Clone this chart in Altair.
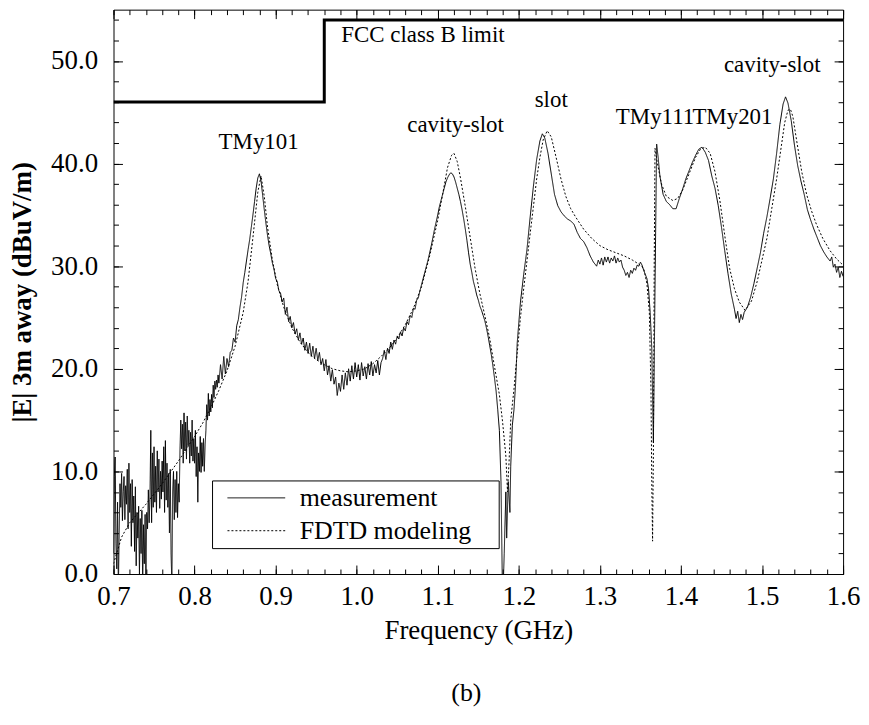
import altair as alt
import numpy as np
import pandas as pd

# ---------------- data ----------------
# measurement, noisy low-frequency part on a 1 MHz grid 0.700 .. 0.830 GHz
meas_a_span = (0.700, 0.830)
meas_a = [2.0, 9.5, 11.4, 3.0, 0.5, 7.0, -1.5, 4.0, 8.8, 6.5, 9.8, 5.2, 8.0, 9.5, 5.3, 8.6,
          6.8, 10.2, 4.4, 10.8, 6.0, 8.8, 2.7, 9.2, 5.0, 7.6, 2.2, 8.5, 0.8, 6.0, 3.5, 6.6,
          0.0, 5.4, 2.0, 6.2, -1.0, 4.8, 1.0, 5.8, -1.0, 6.0, 4.4, 8.2, 5.0, 7.5, 14.0, 5.0,
          11.8, 6.5, 12.4, 7.0, 10.5, 6.0, 12.0, 8.0, 11.2, 6.4, 10.0, 7.3, 11.0, 8.0, 12.4,
          6.0, 13.0, 7.2, 10.8, 6.5, 9.8, 4.0, 10.2, 2.0, -1.0, 8.0, 10.0, 5.3, 9.2, 6.0, 10.0,
          5.5, 8.8, 7.0, 12.0, 15.0, 12.2, 14.6, 10.8, 15.7, 12.0, 14.8, 11.2, 15.4, 12.5,
          14.0, 10.8, 13.8, 11.5, 15.0, 11.0, 13.2, 10.8, 14.0, 9.5, 12.4, 7.0, 11.8, 10.0,
          13.4, 9.9, 12.8, 10.5, 13.2, 10.0, 12.6, 14.0, 16.5, 15.0, 17.6, 15.4, 17.0, 15.8,
          17.5, 16.2, 18.4, 17.2, 18.8, 18.0, 18.9, 18.2, 19.4, 18.6]
# measurement 0.832 .. 0.878 GHz (2 MHz grid)
meas_b_span = (0.832, 0.878)
meas_b = [20.4, 19.0, 21.2, 19.5, 21.0, 20.2, 21.6, 21.8, 23.0, 22.6, 24.2, 24.8, 26.0, 27.0,
          28.4, 29.4, 30.5, 31.6, 32.6, 33.8, 35.0, 36.3, 37.6, 38.6]
# measurement 0.880 .. 1.050 GHz (2 MHz grid)
meas_c_span = (0.880, 1.050)
meas_c = [39.0, 38.3, 36.9, 35.5, 34.2, 33.0, 32.0, 31.2, 30.3, 29.7, 28.8, 28.5, 27.6, 27.4,
          26.5, 26.9, 25.3, 26.0, 24.6, 25.1, 24.0, 24.5, 23.4, 23.9, 22.8, 23.5, 22.4, 23.0,
          21.8, 22.6, 21.5, 22.5, 21.2, 22.2, 21.0, 22.0, 20.8, 21.6, 20.4, 21.0, 19.8, 20.9,
          19.4, 20.3, 18.8, 19.9, 18.5, 19.2, 17.4, 18.6, 17.8, 19.4, 18.0, 19.6, 18.4, 20.0,
          18.8, 20.3, 19.0, 20.6, 19.2, 20.4, 18.9, 20.6, 19.3, 20.2, 19.0, 20.5, 19.4, 20.7,
          19.3, 20.4, 19.6, 20.8, 19.4, 20.6, 21.0, 21.8, 20.9, 22.0, 21.5, 22.6, 21.9, 22.8,
          22.4, 23.2]
# measurement 1.052 .. 1.174 GHz (2 MHz grid)
meas_d_span = (1.052, 1.174)
meas_d = [22.9, 23.6, 23.2, 24.0, 23.7, 24.6, 24.3, 25.2, 25.0, 25.9, 25.8, 26.7, 26.9, 27.6,
          28.2, 28.8, 29.4, 30.0, 30.6, 31.3, 32.0, 32.8, 33.6, 34.3, 35.0, 35.8, 36.4, 37.0,
          37.6, 38.2, 38.6, 38.9, 39.1, 39.0, 38.7, 38.2, 37.6, 37.0, 36.3, 35.5, 34.6, 33.6,
          32.5, 31.3, 30.2, 29.4, 28.5, 27.9, 27.2, 26.7, 26.1, 25.7, 25.2, 24.7, 24.0, 23.2,
          22.3, 21.4, 20.3, 19.1, 17.8, 16.0]
# measurement 1.176 .. 1.600 GHz (frequency, level)
meas_e = [(1.176, 14.0), (1.178, 9.0), (1.180, -3.0), (1.182, 2.0), (1.184, 8.0), (1.185, 3.5),
          (1.187, 9.0), (1.189, 6.0), (1.190, 10.5), (1.192, 14.5), (1.194, 16.0), (1.196, 18.5),
          (1.198, 22.5), (1.200, 24.5), (1.202, 26.5), (1.206, 29.2), (1.210, 31.6), (1.214, 34.8),
          (1.218, 37.8), (1.222, 40.4), (1.226, 42.2), (1.229, 42.9), (1.232, 42.5), (1.236, 41.0),
          (1.240, 39.0), (1.244, 37.0), (1.248, 35.9), (1.252, 35.3), (1.256, 34.9), (1.260, 34.6),
          (1.264, 34.4), (1.268, 34.1), (1.272, 33.3), (1.276, 32.7), (1.280, 32.4), (1.284, 31.8),
          (1.288, 31.0), (1.292, 30.4), (1.296, 30.0), (1.298, 30.6), (1.300, 30.2), (1.302, 30.8),
          (1.304, 30.1), (1.306, 30.9), (1.308, 30.4), (1.310, 30.9), (1.312, 30.3), (1.314, 30.8),
          (1.316, 30.5), (1.318, 31.0), (1.320, 30.3), (1.322, 30.8), (1.324, 30.4), (1.326, 30.6),
          (1.328, 29.9), (1.330, 29.6), (1.332, 29.1), (1.334, 29.4), (1.336, 28.9), (1.338, 29.6),
          (1.340, 29.3), (1.342, 29.8), (1.344, 29.6), (1.346, 30.1), (1.348, 30.0), (1.350, 30.4),
          (1.352, 30.1), (1.354, 29.6), (1.356, 29.2), (1.358, 28.8), (1.360, 27.8), (1.362, 25.5),
          (1.364, 22.0), (1.366, 12.8), (1.368, 28.0), (1.370, 41.9), (1.372, 40.5), (1.374, 38.8),
          (1.378, 37.0), (1.382, 36.3), (1.386, 36.0), (1.390, 35.6), (1.394, 35.6), (1.398, 36.6),
          (1.402, 37.5), (1.406, 38.5), (1.410, 39.3), (1.414, 40.1), (1.418, 40.8), (1.422, 41.4),
          (1.426, 41.6), (1.430, 41.1), (1.434, 40.3), (1.438, 38.8), (1.442, 37.6), (1.446, 35.9),
          (1.450, 33.8), (1.454, 31.5), (1.458, 29.3), (1.462, 27.3), (1.466, 25.8), (1.468, 24.9),
          (1.470, 25.6), (1.472, 24.5), (1.474, 25.3), (1.476, 24.8), (1.478, 25.5), (1.482, 26.0),
          (1.486, 27.0), (1.490, 28.3), (1.494, 29.8), (1.498, 31.3), (1.502, 33.2), (1.506, 34.8),
          (1.510, 36.6), (1.514, 38.5), (1.518, 41.0), (1.522, 43.8), (1.526, 45.8), (1.529, 46.5),
          (1.532, 45.9), (1.536, 44.2), (1.540, 41.8), (1.544, 39.8), (1.548, 38.3), (1.552, 37.0),
          (1.556, 35.5), (1.560, 34.5), (1.564, 33.6), (1.568, 32.8), (1.572, 32.0), (1.576, 31.4),
          (1.580, 30.9), (1.584, 30.5), (1.586, 30.9), (1.588, 29.9), (1.590, 30.2), (1.592, 29.4),
          (1.594, 29.9), (1.596, 28.9), (1.598, 29.5), (1.600, 29.0)]

# FDTD modeling (frequency, level)
fdtd = [(0.700, 1.0), (0.710, 3.6), (0.720, 5.0), (0.730, 5.9), (0.740, 6.8), (0.750, 7.8),
        (0.760, 8.8), (0.770, 9.9), (0.780, 11.0), (0.790, 12.2), (0.800, 13.4), (0.810, 14.7),
        (0.820, 16.2), (0.830, 17.9), (0.840, 19.8), (0.850, 22.2), (0.860, 25.5), (0.866, 28.5),
        (0.872, 32.8), (0.878, 37.2), (0.882, 38.8), (0.886, 36.8), (0.890, 33.8), (0.896, 30.6),
        (0.902, 28.2), (0.910, 26.0), (0.920, 24.0), (0.930, 22.6), (0.940, 21.6), (0.950, 20.9),
        (0.960, 20.4), (0.970, 20.0), (0.980, 19.8), (0.990, 19.7), (1.000, 19.8), (1.010, 20.0),
        (1.020, 20.5), (1.030, 21.2), (1.040, 22.0), (1.050, 23.0), (1.060, 24.3), (1.070, 25.9),
        (1.080, 28.0), (1.090, 31.0), (1.100, 34.5), (1.106, 37.0), (1.112, 39.6), (1.117, 40.8),
        (1.120, 41.0), (1.124, 40.2), (1.128, 38.6), (1.134, 35.8), (1.140, 32.8), (1.146, 29.8),
        (1.152, 27.3), (1.158, 25.2), (1.164, 23.0), (1.170, 20.2), (1.176, 17.5), (1.180, 14.8),
        (1.184, 11.5), (1.186, 8.0), (1.188, 11.0), (1.190, 15.0), (1.194, 18.0), (1.198, 21.5),
        (1.202, 25.0), (1.206, 27.8), (1.210, 30.5), (1.214, 33.2), (1.218, 35.8), (1.222, 38.5),
        (1.226, 40.6), (1.230, 42.3), (1.235, 43.2), (1.240, 42.6), (1.246, 40.6), (1.252, 38.5),
        (1.258, 36.8), (1.264, 35.6), (1.270, 34.8), (1.280, 33.6), (1.290, 32.7), (1.300, 32.0),
        (1.310, 31.6), (1.320, 31.3), (1.330, 31.0), (1.340, 30.6), (1.348, 30.2), (1.354, 29.8),
        (1.358, 28.3), (1.361, 25.5), (1.363, 18.0), (1.364, 9.0), (1.365, 3.2), (1.366, 12.0),
        (1.367, 30.0), (1.368, 41.5), (1.371, 40.0), (1.376, 38.0), (1.382, 36.8), (1.390, 36.4),
        (1.396, 36.6), (1.402, 37.4), (1.410, 39.0), (1.418, 40.6), (1.424, 41.4), (1.430, 41.6),
        (1.436, 41.0), (1.442, 39.2), (1.448, 36.4), (1.454, 33.0), (1.460, 29.8), (1.466, 27.8),
        (1.472, 26.5), (1.479, 25.7), (1.487, 26.6), (1.494, 28.5), (1.500, 30.6), (1.506, 32.7),
        (1.512, 35.6), (1.518, 38.5), (1.524, 41.8), (1.528, 44.0), (1.532, 45.2), (1.535, 45.3),
        (1.538, 44.6), (1.543, 42.1), (1.549, 39.2), (1.555, 37.0), (1.561, 35.4), (1.567, 34.1),
        (1.575, 32.7), (1.584, 31.5), (1.592, 30.7), (1.600, 30.1)]

# FCC class B limit (step at 0.96 GHz)
fcc_freq = [0.70, 0.96, 0.96, 1.60]
fcc_level = [46.0, 46.0, 54.0, 54.0]

# annotations
notes_text = ["TMy101", "cavity-slot", "slot", "TMy111", "TMy201", "cavity-slot"]
notes_freq = [0.879, 1.122, 1.240, 1.368, 1.4635, 1.5126]
notes_level = [41.4, 43.1, 45.5, 43.9, 43.9, 48.9]
fcc_note = "FCC class B limit"
fcc_note_pos = (0.981, 51.8)

series_names = ["measurement", "FDTD modeling"]
x_major = [0.7, 0.8, 0.9, 1.0, 1.1, 1.2, 1.3, 1.4, 1.5, 1.6]
x_minor = [round(0.70 + 0.02 * i, 2) for i in range(46)]
y_major = [0, 10, 20, 30, 40, 50]
y_minor = list(range(0, 55, 2))

# ---------------- build tables ----------------
def chunk(span, vals):
    return list(zip(np.linspace(span[0], span[1], len(vals)), vals))

meas_pts = (chunk(meas_a_span, meas_a) + chunk(meas_b_span, meas_b) +
            chunk(meas_c_span, meas_c) + chunk(meas_d_span, meas_d) + meas_e)
meas_df = pd.DataFrame(meas_pts, columns=["f", "v"])
meas_df["series"] = series_names[0]
fdtd_df = pd.DataFrame(fdtd, columns=["f", "v"])
fdtd_df["series"] = series_names[1]
lines_df = pd.concat([meas_df, fdtd_df], ignore_index=True)

fcc_df = pd.DataFrame({"f": fcc_freq, "v": fcc_level, "i": range(len(fcc_freq))})
notes_df = pd.DataFrame({"f": notes_freq, "v": notes_level, "t": notes_text})
fcc_note_df = pd.DataFrame({"f": [fcc_note_pos[0]], "v": [fcc_note_pos[1]], "t": [fcc_note]})

SERIF = "Liberation Serif"
# blank tail (non-breaking spaces + zero-width char so it is not trimmed) widens the legend box
LEGEND_TAIL = "\u00a0\u00a0\u00a0\u00a0\u200b"
xscale = alt.Scale(domain=[0.7, 1.6], nice=False, zero=False)
yscale = alt.Scale(domain=[0, 55], nice=False, zero=False)


def xaxis(orient, major, title=""):
    if major:
        return alt.Axis(orient=orient, values=x_major, format=".1f", tickSize=9, offset=-9,
                        labels=(orient == "bottom"), labelPadding=10, labelFontSize=27,
                        labelFont=SERIF, labelFontWeight="normal", labelFlush=False,
                        labelColor="black", tickColor="black",
                        title=title, titleFontSize=27, titleFont=SERIF,
                        titleFontWeight="normal", titleColor="black",
                        titlePadding=8, domain=False, grid=False)
    return alt.Axis(orient=orient, values=x_minor, tickSize=5, offset=-5, labels=False,
                    tickColor="black", title="", domain=False, grid=False)


def yaxis(orient, major, title=""):
    if major:
        return alt.Axis(orient=orient, values=y_major, format=".1f", tickSize=9, offset=-9,
                        labels=(orient == "left"), labelPadding=16, labelFontSize=27,
                        labelFont=SERIF, labelFontWeight="normal", labelFlush=False,
                        labelColor="black", tickColor="black",
                        title=title, titleFontSize=27, titleFont=SERIF,
                        titleFontWeight="bold", titleColor="black",
                        titlePadding=14, domain=False, grid=False)
    return alt.Axis(orient=orient, values=y_minor, tickSize=5, offset=-5, labels=False,
                    tickColor="black", title="", domain=False, grid=False)


lines = alt.Chart(lines_df).mark_line(clip=True, strokeWidth=1, color="black").encode(
    x=alt.X("f:Q", scale=xscale, axis=xaxis("bottom", True, "Frequency (GHz)")),
    y=alt.Y("v:Q", scale=yscale, axis=yaxis("left", True, "|E| 3m away (dBuV/m)")),
    strokeDash=alt.StrokeDash(
        "series:N",
        scale=alt.Scale(domain=series_names, range=[[1, 0], [2, 2]]),
        legend=alt.Legend(title=None, orient="none", legendX=99, legendY=473,
                          symbolType="stroke", symbolSize=3364, symbolStrokeWidth=1,
                          symbolStrokeColor="black", clipHeight=33, rowPadding=0,
                          padding=1, symbolOffset=14, labelOffset=14, labelFontSize=26,
                          labelFont=SERIF, labelColor="black", labelLimit=600,
                          strokeColor="black", fillColor="white",
                          labelExpr="datum.label + '" + LEGEND_TAIL + "'"),
    ),
)

fcc = alt.Chart(fcc_df).mark_line(clip=True, strokeWidth=3, color="black").encode(
    x=alt.X("f:Q", scale=xscale, axis=xaxis("bottom", False)),
    y=alt.Y("v:Q", scale=yscale, axis=yaxis("left", False)),
    order=alt.Order("i:Q"),
)

notes = alt.Chart(notes_df).mark_text(font=SERIF, fontSize=23, align="center",
                                      baseline="alphabetic", color="black").encode(
    x=alt.X("f:Q", scale=xscale, axis=xaxis("top", True)),
    y=alt.Y("v:Q", scale=yscale, axis=yaxis("right", True)),
    text="t:N",
)

fcc_label = alt.Chart(fcc_note_df).mark_text(font=SERIF, fontSize=23, align="left",
                                             baseline="alphabetic", color="black").encode(
    x=alt.X("f:Q", scale=xscale, axis=xaxis("top", False)),
    y=alt.Y("v:Q", scale=yscale, axis=yaxis("right", False)),
    text="t:N",
)

chart = alt.layer(lines, fcc, notes, fcc_label).resolve_axis(
    x="independent", y="independent"
).properties(
    width=733, height=567,
    padding={"left": 106, "top": 0, "right": 18, "bottom": 140},
    autosize=alt.AutoSizeParams(type="none"),
    title=alt.TitleParams("(b)", orient="bottom", anchor="middle", fontSize=26, font=SERIF,
                          fontWeight="normal", color="black", offset=37, dx=-12),
).configure_view(stroke="black", strokeWidth=1).configure_axis(
    labelFont=SERIF, titleFont=SERIF, labelColor="black", titleColor="black",
    tickColor="black", tickWidth=1,
)

chart.save("out.html", embed_options={"renderer": "svg", "actions": False})
